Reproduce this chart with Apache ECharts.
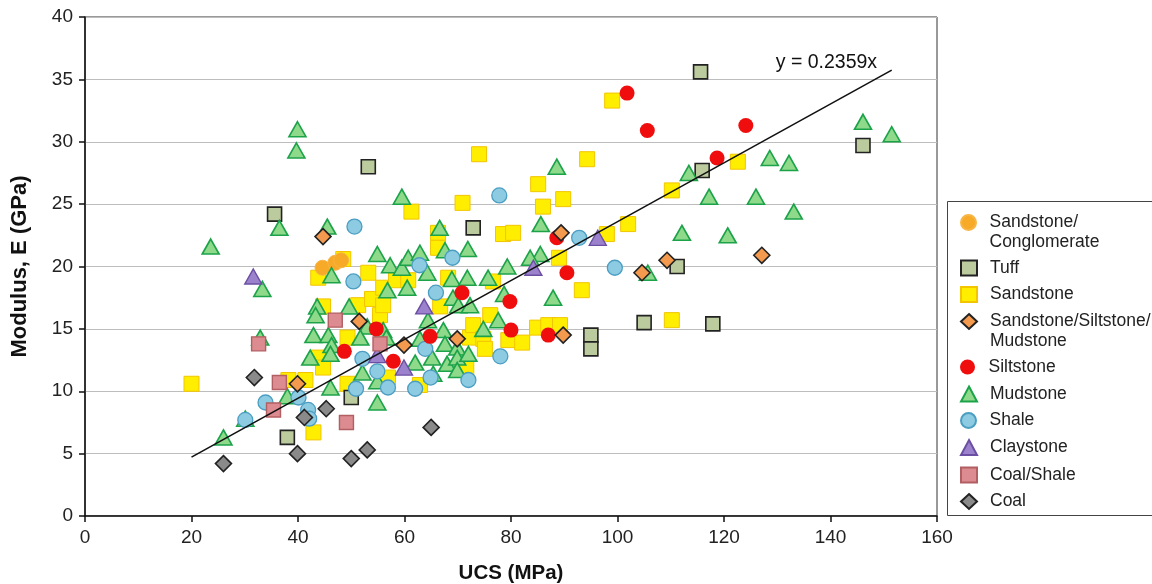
<!DOCTYPE html>
<html><head><meta charset="utf-8">
<script src="https://cdn.jsdelivr.net/npm/echarts@6/dist/echarts.min.js"></script>
<style>html,body{margin:0;padding:0;background:#fff}#c{width:1152px;height:584px}</style>
</head><body><div id="c"></div>
<script>
// ---------- data ----------
const xAxisName = 'UCS (MPa)';
const yAxisName = 'Modulus, E (GPa)';
const trendSlope = 0.2359;
const trendXRange = [20, 151.5];
const trendLabel = 'y = 0.2359x';

const sandstoneConglomerate = [[44.6,19.9],[47.0,20.3],[48.1,20.5]];
const tuff = [[35.6,24.2],[53.2,28.0],[72.9,23.1],[115.6,35.6],[146.1,29.7],[115.9,27.7],[111.2,20.0],[95.0,14.5],[95.0,13.4],[105.0,15.5],[117.9,15.4],[38.0,6.3],[50.0,9.5]];
const sandstone = [[20.0,10.6],[38.2,10.9],[41.4,10.9],[42.9,6.7],[43.8,19.1],[44.7,16.8],[43.8,12.7],[44.7,11.9],[48.5,20.6],[49.3,14.3],[49.3,10.6],[51.3,16.9],[53.2,19.5],[53.9,17.4],[55.4,16.1],[56.0,18.3],[56.0,16.9],[58.4,18.9],[60.7,18.9],[56.9,11.1],[61.3,24.4],[62.9,10.5],[66.3,22.7],[66.3,21.5],[66.7,16.8],[68.2,19.1],[70.9,25.1],[71.6,11.9],[72.3,14.3],[72.9,15.3],[74.0,29.0],[74.8,14.2],[75.1,13.4],[76.1,16.1],[76.6,18.8],[78.5,22.6],[80.4,22.7],[79.5,14.1],[82.1,13.9],[85.1,26.6],[86.0,24.8],[89.8,25.4],[84.9,15.1],[87.0,15.3],[89.2,15.3],[89.0,20.7],[93.3,18.1],[94.3,28.6],[98.0,22.6],[99.0,33.3],[102.0,23.4],[110.2,26.1],[110.2,15.7],[122.6,28.4]];
const sandSiltMud = [[44.7,22.4],[51.5,15.6],[39.9,10.6],[59.9,13.7],[69.9,14.2],[89.8,14.5],[89.4,22.7],[104.6,19.5],[109.3,20.5],[127.1,20.9]];
const siltstone = [[101.8,33.9],[105.6,30.9],[124.1,31.3],[118.7,28.7],[88.6,22.3],[90.5,19.5],[79.8,17.2],[70.8,17.9],[48.7,13.2],[54.7,15.0],[57.9,12.4],[64.8,14.4],[80.0,14.9],[87.0,14.5]];
const mudstone = [[23.6,21.6],[39.9,31.0],[39.7,29.3],[36.5,23.1],[33.3,18.2],[32.9,14.3],[38.0,9.6],[30.1,7.8],[26.0,6.3],[45.5,23.2],[54.9,21.0],[46.3,19.3],[43.6,16.8],[43.3,16.1],[49.6,16.8],[53.0,15.2],[42.9,14.5],[45.7,14.5],[46.3,13.7],[51.7,14.3],[42.3,12.7],[46.1,13.0],[52.1,11.5],[46.1,10.3],[54.9,9.1],[54.9,10.8],[59.5,25.6],[57.3,20.1],[59.5,19.9],[60.7,20.7],[62.9,21.1],[64.3,19.5],[60.5,18.3],[56.8,18.1],[66.6,23.1],[67.6,21.3],[71.9,21.4],[68.9,19.0],[71.8,19.1],[75.7,19.1],[79.3,20.0],[69.1,17.5],[70.1,16.9],[72.3,16.9],[78.7,17.8],[64.4,15.7],[67.3,14.9],[62.9,14.2],[56.0,14.9],[56.6,14.3],[74.8,15.0],[77.6,15.7],[67.6,13.8],[69.9,13.5],[65.2,12.7],[68.0,12.2],[69.9,12.7],[72.0,13.0],[69.9,11.7],[62.0,12.3],[65.4,11.4],[85.6,23.4],[85.5,21.0],[83.6,20.7],[88.6,28.0],[87.9,17.5],[105.7,19.5],[112.1,22.7],[120.7,22.5],[113.4,27.5],[117.2,25.6],[126.0,25.6],[128.6,28.7],[132.2,28.3],[133.1,24.4],[146.1,31.6],[151.5,30.6]];
const shale = [[30.1,7.7],[33.9,9.1],[40.1,9.5],[41.9,8.5],[42.1,7.8],[50.6,23.2],[50.4,18.8],[52.1,12.6],[50.9,10.2],[54.9,11.6],[56.9,10.3],[62.0,10.2],[62.8,20.1],[63.9,13.4],[64.9,11.1],[65.9,17.9],[69.0,20.7],[72.0,10.9],[77.8,25.7],[78.0,12.8],[92.8,22.3],[99.5,19.9]];
const claystone = [[31.6,19.2],[63.7,16.8],[54.9,12.9],[59.9,11.9],[84.2,19.9],[96.3,22.3]];
const coalShale = [[32.6,13.8],[36.5,10.7],[35.4,8.5],[47.0,15.7],[55.4,13.8],[49.1,7.5]];
const coal = [[26.0,4.2],[31.8,11.1],[39.9,5.0],[41.2,7.9],[45.3,8.6],[50.0,4.6],[53.0,5.3],[65.0,7.1]];

const legendNames = ['Sandstone/Conglomerate','Tuff','Sandstone','Sandstone/Siltstone/Mudstone','Siltstone','Mudstone','Shale','Claystone','Coal/Shale','Coal'];
const legendLabels = ['Sandstone/\nConglomerate','Tuff','Sandstone','Sandstone/Siltstone/\nMudstone','Siltstone','Mudstone','Shale','Claystone','Coal/Shale','Coal'];

// ---------- styles ----------
const seriesDefs = [
  {name:'Sandstone', data:sandstone, symbol:'rect', size:[15,15], fill:'#ffee00', stroke:'#f2c500', bw:1},
  {name:'Sandstone/Conglomerate', data:sandstoneConglomerate, symbol:'circle', size:15, fill:'#f7a928', stroke:'#f7b545', bw:1},
  {name:'Tuff', data:tuff, symbol:'rect', size:[14,14], fill:'#bccb9e', stroke:'#222', bw:1.6},
  {name:'Mudstone', data:mudstone, symbol:'triangle', size:[17,15], fill:'#8fd98a', stroke:'#1ca34a', bw:1.6},
  {name:'Shale', data:shale, symbol:'circle', size:15, fill:'#8ccbe2', stroke:'#4b9ec2', bw:1.3},
  {name:'Siltstone', data:siltstone, symbol:'circle', size:15, fill:'#f00d0d', stroke:'#f00d0d', bw:0},
  {name:'Sandstone/Siltstone/Mudstone', data:sandSiltMud, symbol:'diamond', size:[16,16], fill:'#f39a4f', stroke:'#222', bw:1.6},
  {name:'Claystone', data:claystone, symbol:'triangle', size:[17,15], fill:'#9c82cc', stroke:'#6b4fa3', bw:1.4},
  {name:'Coal/Shale', data:coalShale, symbol:'rect', size:[14,14], fill:'#dc8b90', stroke:'#b25f63', bw:1.4},
  {name:'Coal', data:coal, symbol:'diamond', size:[16,16], fill:'#8a8a8a', stroke:'#222', bw:1.6}
];
const legendIconY = [222.5,268,294.5,321.5,367,394,420.5,447.5,475,501.5];
const FONT = "'Liberation Sans', Arial, sans-serif";

const chart = echarts.init(document.getElementById('c'), null, {renderer:'canvas'});

const series = seriesDefs.map(d => ({
  name: d.name, type:'scatter', data:d.data, symbol:d.symbol, symbolSize:d.size,
  itemStyle:{color:d.fill, borderColor:d.stroke, borderWidth:d.bw, opacity:1},
  emphasis:{disabled:true}, z:3
}));
series.push({
  name:'trend', type:'line', silent:true, symbol:'none', z:5,
  data: trendXRange.map(x => [x, trendSlope*x]),
  lineStyle:{color:'#111', width:1.6},
  endLabel:{show:true, formatter:trendLabel, color:'#111', fontSize:19.5, fontFamily:FONT, distance:0, offset:[-116,-8]}
});

const LH = 20;
const legends = legendNames.map((n,i) => {
  const two = legendLabels[i].indexOf('\n') >= 0;
  const label = two ? ' \n' + legendLabels[i] : legendLabels[i];
  const lines = two ? 3 : 1;
  return {
    data:[n], orient:'vertical', left:960, top: legendIconY[i] - lines*LH/2,
    padding:0, itemWidth:16, itemHeight:15, itemGap:0, selectedMode:false,
    formatter: () => label,
    textStyle:{fontSize:17.5, fontFamily:FONT, color:'#222', lineHeight:LH, padding:[0,0,0,8]}
  };
});

chart.setOption({
  animation:false,
  backgroundColor:'#fff',
  grid:{left:85, right:215, top:17, bottom:68, show:true, borderColor:'#333', borderWidth:1, outerBoundsMode:'none', containLabel:false},
  xAxis:{
    type:'value', min:0, max:160, interval:20,
    name:xAxisName, nameLocation:'middle', nameGap:47,
    nameTextStyle:{fontSize:20.5, fontWeight:'bold', fontFamily:FONT, color:'#111'},
    axisLine:{show:true, onZero:false, lineStyle:{color:'#111', width:1.5}},
    axisTick:{show:true, length:6, lineStyle:{color:'#111', width:1.5}},
    axisLabel:{fontSize:19, fontFamily:FONT, color:'#222', margin:12},
    splitLine:{show:false}
  },
  yAxis:{
    type:'value', min:0, max:40, interval:5,
    name:yAxisName, nameLocation:'middle', nameGap:54,
    nameTextStyle:{fontSize:22, fontWeight:'bold', fontFamily:FONT, color:'#111'},
    axisLine:{show:true, onZero:false, lineStyle:{color:'#111', width:1.5}},
    axisTick:{show:true, length:6, lineStyle:{color:'#111', width:1.5}},
    axisLabel:{fontSize:19, fontFamily:FONT, color:'#222', margin:12},
    splitLine:{show:true, lineStyle:{color:'#bdbdbd', width:1}}
  },
  legend: legends,
  graphic:[{type:'rect', shape:{x:947.5, y:201.5, width:230, height:314}, style:{fill:'#fff', stroke:'#444', lineWidth:1}, z:0, silent:true}],
  series: series
});
</script></body></html>
